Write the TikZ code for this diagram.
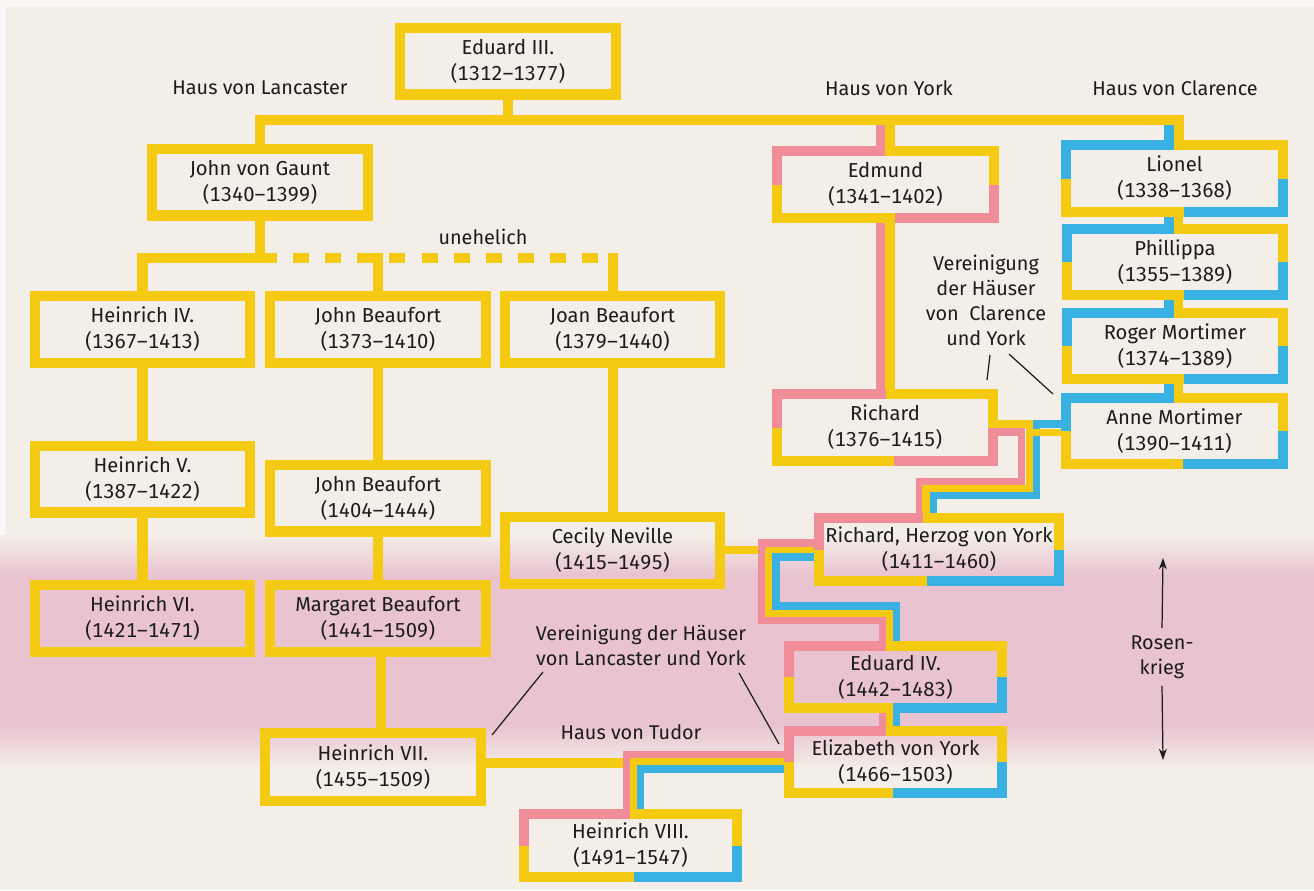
\documentclass[tikz,border=0pt]{standalone}
\usepackage{fontspec}
\setmainfont{Fira Sans}[Numbers={Lining,Monospaced}]
\usetikzlibrary{arrows.meta}

\definecolor{gold}{HTML}{F5CA12}
\definecolor{rose}{HTML}{F08D98}
\definecolor{sky}{HTML}{39B1E3}
\definecolor{paper}{HTML}{F3EEE8}
\definecolor{band}{HTML}{E9C3D0}
\definecolor{ink}{HTML}{1C1C1C}

\pgfdeclarelayer{paperlayer}
\pgfdeclarelayer{wires}
\pgfsetlayers{paperlayer,wires,main}

\tikzset{
  person/.style={align=center, inner sep=0pt, outer sep=0pt,
    minimum width=4.32cm, minimum height=1.34cm,
    font=\fontsize{11.5}{14.8}\selectfont, text=ink},
  plainbox/.style={person, draw=gold, line width=5.7pt},
  rim/.style={line width=5.7pt},
  single/.style={draw=gold, line width=5.7pt},
  dstripe/.style={line width=5.4pt},
  tstripe/.style={line width=4.1pt},
  tag/.style={font=\fontsize{11.3}{14.2}\selectfont, text=ink, align=center, inner sep=0pt},
  leader/.style={draw=ink, line width=0.7pt},
}

% border of a box in four colours: node, split top, split bottom, TL, TR, BL, BR
\newcommand{\quadrim}[7]{%
  \draw[rim,#4] (#2,0 |- #1.north) -| (#1.west);
  \draw[rim,#5] (#2,0 |- #1.north) -| (#1.east);
  \draw[rim,#6] (#3,0 |- #1.south) -| (#1.west);
  \draw[rim,#7] (#3,0 |- #1.south) -| (#1.east);
}

\begin{document}
\begin{tikzpicture}[x=0.02cm, y=-0.02cm]
  \useasboundingbox (0,0) rectangle (1314,890);

  \begin{pgfonlayer}{paperlayer}
    \fill[paper] (0,0) rectangle (1314,890);
    \fill[white!60!paper] (0,0) rectangle (1314,7);
    \fill[white!60!paper] (0,0) rectangle (6,540);
    \shade[top color=paper, bottom color=band] (0,535) rectangle (1314,575);
    \fill[band] (0,575) rectangle (1314,725);
    \shade[top color=band, bottom color=paper] (0,725) rectangle (1314,768);
  \end{pgfonlayer}

  % Lancaster and Tudor, all yellow
  \begin{scope}[every node/.style={plainbox}]
    \node (e3) at (508,61) {Eduard III.\\(1312–1377)};
    \node (g) at (260,182) {John von Gaunt\\(1340–1399)};
    \node (h4) at (142.5,329.5) {Heinrich IV.\\(1367–1413)};
    \node (jb1) at (378,329.5) {John Beaufort\\(1373–1410)};
    \node (joan) at (612.5,329.5) {Joan Beaufort\\(1379–1440)};
    \node (h5) at (142.5,479) {Heinrich V.\\(1387–1422)};
    \node (jb2) at (378,498) {John Beaufort\\(1404–1444)};
    \node (h6) at (142.5,618.5) {Heinrich VI.\\(1421–1471)};
    \node (mb) at (378,618.5) {Margaret Beaufort\\(1441–1509)};
    \node (cec) at (612.5,550) {Cecily Neville\\(1415–1495)};
    \node[minimum height=1.36cm] (h7) at (373,767) {Heinrich VII.\\(1455–1509)};
  \end{scope}

  % York and Clarence
  \begin{scope}[every node/.style={person}]
    \node[minimum width=4.34cm] (ed) at (885.5,184.5) {Edmund\\(1341–1402)};
    \node[minimum width=4.34cm] (li) at (1174.5,178.5) {Lionel\\(1338–1368)};
    \node[minimum height=1.32cm] (ph) at (1175,262) {Phillippa\\(1355–1389)};
    \node[minimum height=1.32cm] (rm) at (1175,346) {Roger Mortimer\\(1374–1389)};
    \node[minimum width=4.34cm, minimum height=1.32cm] (an) at (1174.5,431) {Anne Mortimer\\(1390–1411)};
    \node (ri) at (885,427.5) {Richard\\(1376–1415)};
    \node[minimum width=4.8cm, minimum height=1.26cm] (hz) at (939,549.5) {Richard, Herzog von York\\(1411–1460)};
    \node[minimum width=4.26cm, minimum height=1.24cm] (e4) at (895.5,677) {Eduard IV.\\(1442–1483)};
    \node[minimum width=4.26cm, minimum height=1.24cm] (el) at (895.5,762) {Elizabeth von York\\(1466–1503)};
    \node[minimum width=4.26cm, minimum height=1.26cm] (h8) at (630.5,845.5) {Heinrich VIII.\\(1491–1547)};
  \end{scope}

  \quadrim{ed}{885}{895}{rose}{gold}{gold}{rose}
  \quadrim{ri}{885.5}{894}{rose}{gold}{gold}{rose}
  \quadrim{li}{1174}{1184}{sky}{gold}{gold}{sky}
  \quadrim{ph}{1173.5}{1184}{sky}{gold}{gold}{sky}
  \quadrim{rm}{1173.5}{1184}{sky}{gold}{gold}{sky}
  \quadrim{an}{1174}{1183}{sky}{gold}{gold}{sky}
  \quadrim{hz}{922.5}{927}{rose}{gold}{gold}{sky}
  \quadrim{e4}{886}{893}{rose}{gold}{gold}{sky}
  \quadrim{el}{886}{893}{rose}{gold}{gold}{sky}
  \quadrim{h8}{630}{634}{rose}{gold}{gold}{sky}

  % labels
  \node[tag] (lanc) at (260,88) {Haus von Lancaster};
  \node[tag] (york) at (889,88) {Haus von York};
  \node[tag] (clar) at (1175,88) {Haus von Clarence};
  \node[tag] (unehel) at (483,237) {unehelich};
  \node[tag] (tudor) at (631,732) {Haus von Tudor};
  \node[tag] (vcy) at (986,300) {Vereinigung\\der Häuser\\von\ \ Clarence\\und York};
  \node[tag] (vly) at (641,645) {Vereinigung der Häuser\\von Lancaster und York};
  \node[tag] (rk) at (1162,657) {Rosen-\\krieg};

  \coordinate (vcyL) at (990,355);
  \coordinate (vcyR) at (1009,354);
  \coordinate (riTip) at (987,380);
  \coordinate (anTip) at (1053,394);
  \coordinate (vlyL) at (543,672);
  \coordinate (vlyR) at (739,673);
  \coordinate (h7Tip) at (492,735);
  \coordinate (elTip) at (779,744);
  \coordinate (rkTop) at (1163,558);
  \coordinate (rkBot) at (1163,760);

  \draw[leader] (vcyL) -- (riTip);
  \draw[leader] (vcyR) -- (anTip);
  \draw[leader] (vlyL) -- (h7Tip);
  \draw[leader] (vlyR) -- (elTip);
  \draw[leader,-{Stealth[length=6.5pt,width=4.5pt]}] ([yshift=4pt]rk.north) -- (rkTop);
  \draw[leader,-{Stealth[length=6.5pt,width=4.5pt]}] ([yshift=-4pt]rk.south) -- (rkBot);

  \begin{pgfonlayer}{wires}
    % sons of Eduard III.
    \draw[single] (e3.south) -- (e3.south |- 0,120);
    \draw[single] (g.north) |- (1179,120) -- (1179,0 |- li.north);
    \draw[dstripe,gold] (890,120) -- (890,0 |- ed.north);
    \draw[dstripe,rose] (880.5,125) -- (880.5,0 |- ed.north);
    \draw[dstripe,sky] (1169,125) -- (1169,0 |- li.north);

    % Clarence
    \foreach \a/\b in {li/ph, ph/rm, rm/an} {
      \draw[dstripe,sky] (1169,0 |- \a.south) -- (1169,0 |- \b.north);
      \draw[dstripe,gold] (1178.5,0 |- \a.south) -- (1178.5,0 |- \b.north);
    }

    % York
    \draw[dstripe,rose] (880.5,0 |- ed.south) -- (880.5,0 |- ri.north);
    \draw[dstripe,gold] (890,0 |- ed.south) -- (890,0 |- ri.north);

    % Richard and Anne Mortimer
    \draw[tstripe,sky] (an.west |- 0,424) -| (1036.5,495) -| (933,0 |- hz.north);
    \draw[tstripe,rose] (ri.east |- 0,432) -| (1021.5,481.5) -| (919.5,0 |- hz.north);
    \draw[tstripe,gold] (ri.east |- 0,424) -| (1029.5,488.5) -| (926,0 |- hz.north);
    \draw[tstripe,gold] (an.west |- 0,432.5) -- (1029.5,432.5);

    % Cecily Neville and Richard, Herzog von York
    \draw[tstripe,gold] (cec.east) -- (cec.east -| hz.west);
    \draw[tstripe,rose] (hz.west |- 0,543) -| (762,620) -| (882.5,0 |- e4.north);
    \draw[tstripe,gold] (769,550) |- (889.5,613) -- (889.5,0 |- e4.north);
    \draw[tstripe,sky] (hz.west |- 0,557) -| (776,606) -| (896.5,0 |- e4.north);

    \foreach \x/\c in {882.5/rose, 889.5/gold, 896.5/sky}
      \draw[tstripe,\c] (\x,0 |- e4.south) -- (\x,0 |- el.north);

    % Heinrich VII. and Elizabeth
    \draw[single] (h7.east |- 0,763) -- (el.west |- 0,763);
    \draw[tstripe,rose] (el.west |- 0,754.5) -| (626.5,0 |- h8.north);
    \draw[tstripe,gold] (633.5,763) -- (633.5,0 |- h8.north);
    \draw[tstripe,sky] (el.west |- 0,769) -| (640.5,0 |- h8.north);

    % Lancaster
    \draw[single] (g.south) -- (g.south |- 0,258);
    \draw[single] (277,258) -| (h4.north);
    \draw[single, dash pattern=on 9.1pt off 9.2pt] (293,258) -- (600,258);
    \draw[single] (jb1.north |- 0,253) -- (jb1.north);
    \draw[single] (joan.north |- 0,253) -- (joan.north);
    \begin{scope}[every edge/.style={single}]
      \path (h4) edge (h5);
      \path (h5) edge (h6);
      \path (jb1) edge (jb2);
      \path (jb2) edge (mb);
      \path (joan) edge (cec);
    \end{scope}
    \draw[single] (mb.south -| 381,0) -- (381,0 |- h7.north);
  \end{pgfonlayer}
\end{tikzpicture}
\end{document}
